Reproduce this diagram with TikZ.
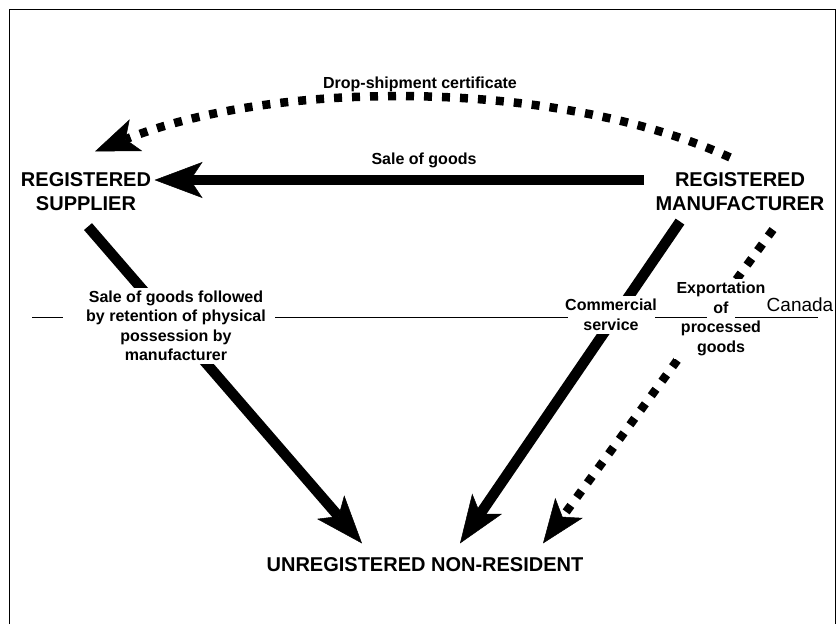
\documentclass[tikz,border=0pt]{standalone}
\usepackage{fontspec}
\setmainfont{Liberation Sans}
\usetikzlibrary{arrows.meta, positioning, calc}
\tikzset{
  every picture/.style={line width=1pt},
  party/.style={font=\fontsize{20}{24}\selectfont\bfseries, align=center, inner sep=3pt},
  lbl/.style={font=\fontsize{16}{19.5}\selectfont\bfseries, align=center, inner sep=3pt},
  cover/.style={lbl, fill=white},
  flow/.style={-{Stealth[length=48pt, width=36pt, inset=12pt, line width=0.5pt]}, line width=10.5pt},
  docflow/.style={-{Stealth[length=44pt, width=34pt, inset=11pt, line width=0.5pt]}, line width=8.5pt, dash pattern=on 8pt off 10pt},
  border/.style={line width=1pt},
}
\begin{document}
\begin{tikzpicture}[x=1pt, y=1pt]
  \useasboundingbox (0,0) rectangle (837,-624);
  \draw[border] (9,-624) -- (9,-9) -- (835,-9) -- (835,-624);
  % the three parties
  \node[party] (sup) at (86,-192) {REGISTERED\\SUPPLIER};
  \node[party] (mfr) at (740,-192) {REGISTERED\\MANUFACTURER};
  \node[party] (nonres) at (425,-565) {UNREGISTERED NON-RESIDENT};
  % what goes between them
  \draw[flow] ([shift={(-8,12)}]mfr.west) -- ([yshift=12pt]sup.east);
  \draw[docflow] ([shift={(-10,12)}]mfr.north) .. controls (560,-80) and (280,-78) .. ([shift={(9,18)}]sup.north);
  \draw[flow] ([shift={(2,-12)}]sup.south) -- ([shift={(-63,11)}]nonres.north);
  \draw[flow] ([shift={(-60,-7)}]mfr.south) -- ([shift={(35,11)}]nonres.north);
  \draw[docflow] ([shift={(33,-15)}]mfr.south) -- ([shift={(118,11)}]nonres.north);
  % labels, the white ones hide the flows under them
  \node[lbl] (droplbl) at (420,-84) {Drop-shipment certificate};
  \node[lbl] (salelbl) at (424,-160) {Sale of goods};
  \node[cover] (retainlbl) at (176,-326) {Sale of goods followed\\by retention of physical\\possession by\\manufacturer};
  \node[cover] (commlbl) at (611,-315) {Commercial\\service};
  \node[cover] (exportlbl) at (721,-319) {Exportation\\of\\processed\\goods};
  \node[font=\fontsize{19}{22}\selectfont, inner sep=3pt] (canadalbl) at (800,-305) {Canada};
  % the line to Canada
  \coordinate (cw) at (32,-317);
  \coordinate (ce) at (818,-317);
  \draw[border] (cw) -- ($(retainlbl.west |- cw)+(-20,0)$);
  \draw[border] ($(retainlbl.east |- cw)+(6,0)$) -- ($(commlbl.west |- cw)+(6,0)$);
  \draw[border] ($(commlbl.east |- cw)+(-5,0)$) -- ($(exportlbl.center |- cw)+(-14,0)$);
  \draw[border] ($(exportlbl.center |- cw)+(14,0)$) -- (ce);
\end{tikzpicture}
\end{document}
